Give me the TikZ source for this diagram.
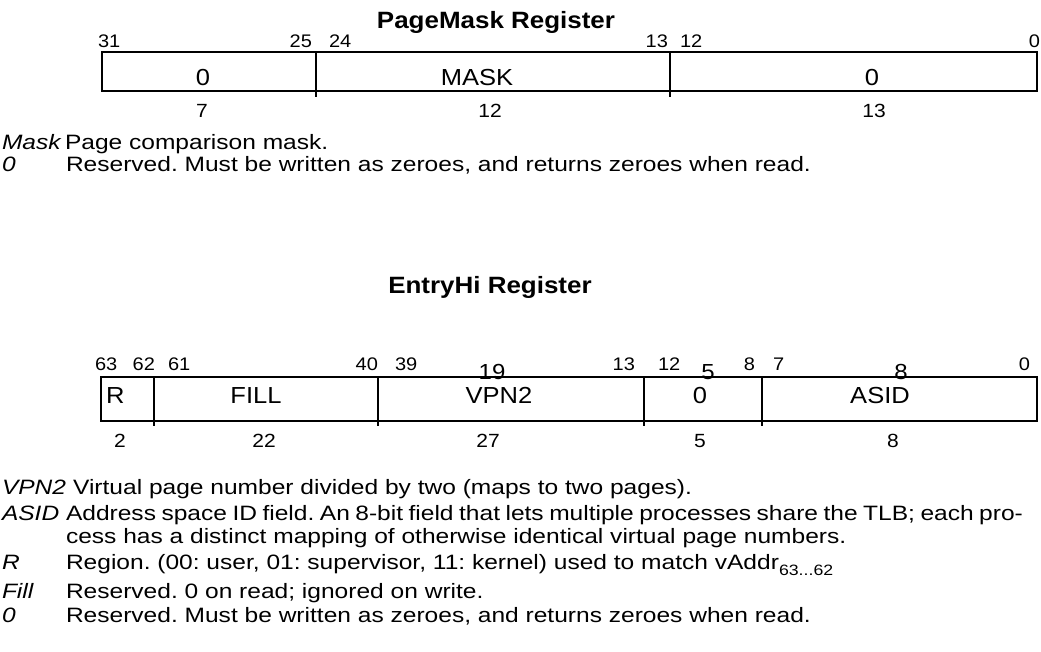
\documentclass[tikz,border=0pt]{standalone}
\usepackage{fontspec}
% the register drawings use a slightly extended sans face
\setmainfont[FakeStretch=1.1]{Liberation Sans}
\newfontfamily\descfont[FakeStretch=1.18]{Liberation Sans}
\frenchspacing
\begin{document}
\begin{tikzpicture}[x=1pt,y=-1pt,
  every node/.style={inner sep=0pt, outer sep=0pt},
  title/.style={anchor=base, font=\fontsize{23.6}{23.6}\selectfont\bfseries},
  bitno/.style={anchor=base, font=\fontsize{18.2}{18.2}\selectfont},
  bitL/.style={bitno, anchor=base west},
  bitR/.style={bitno, anchor=base east},
  bigno/.style={anchor=base, font=\fontsize{21.8}{21.8}\selectfont},
  field/.style={anchor=base, font=\fontsize{23.2}{23.2}\selectfont},
  fieldL/.style={field, anchor=base west},
  widthno/.style={anchor=base, font=\fontsize{19.1}{19.1}\selectfont},
  term/.style={anchor=base west, font=\descfont\fontsize{20.8}{20.8}\selectfont\itshape},
  desc/.style={anchor=base west, font=\descfont\fontsize{20.8}{20.8}\selectfont},
  reg/.style={line width=2pt},
  tick/.style={line width=2pt}]
\useasboundingbox (0,0) rectangle (1041,651);

% ---------------- PageMask register ----------------
\node[title] (pmTitle) at (496,28) {PageMask Register};

\node[bitL] (pmB31) at (98,47)  {31};
\node[bitR] (pmB25) at (312,47) {25};
\node[bitL] (pmB24) at (329,47) {24};
\node[bitR] (pmB13) at (668,47) {13};
\node[bitL] (pmB12) at (680,47) {12};
\node[bitR] (pmB0)  at (1040,47) {0};

\coordinate (pmNW) at (102,52);
\coordinate (pmSE) at (1037,91);
\draw[reg] (pmNW) rectangle (pmSE);
\draw[tick] (316,52) -- (316,97);
\draw[tick] (670,52) -- (670,97);

\node[field] (pmZeroHi) at (203,85) {0};
\node[field] (pmMask)   at (477,85) {MASK};
\node[field] (pmZeroLo) at (872,85) {0};

\node[widthno] (pmW7)  at (202,117) {7};
\node[widthno] (pmW12) at (490,117) {12};
\node[widthno] (pmW13) at (874,117) {13};

\node[term] (pmTMask) at (2,149) {Mask};
\node[desc] (pmDMask) at (65,149) {Page comparison mask.};
\node[term] (pmTZero) at (2,171) {0};
\node[desc] (pmDZero) at (66,171) {Reserved. Must be written as zeroes, and returns zeroes when read.};

% ---------------- EntryHi register ----------------
\node[title] (ehTitle) at (490,293) {EntryHi Register};

\node[bitL] (ehB63) at (95,370)  {63};
\node[bitR] (ehB62) at (155,370) {62};
\node[bitL] (ehB61) at (168,370) {61};
\node[bitR] (ehB40) at (378,370) {40};
\node[bitL] (ehB39) at (395,370) {39};
\node[bitR] (ehB13) at (635,370) {13};
\node[bitL] (ehB12) at (658,370) {12};
\node[bitR] (ehB8)  at (755,370) {8};
\node[bitL] (ehB7)  at (773,370) {7};
\node[bitR] (ehB0)  at (1030,370) {0};

\node[bigno] (ehN19) at (492,379) {19};
\node[bigno] (ehN5)  at (708,379) {5};
\node[bigno] (ehN8)  at (901,379) {8};

\coordinate (ehNW) at (101,377);
\coordinate (ehSE) at (1037,421);
\draw[reg] (ehNW) rectangle (ehSE);
\foreach \xd in {154,378,644,762}
  \draw[tick] (\xd,377) -- (\xd,426);

\node[fieldL] (ehR)    at (106,403) {R};
\node[field]  (ehFill) at (256,403) {FILL};
\node[field]  (ehVpn)  at (499,403) {VPN2};
\node[field]  (ehZero) at (700,403) {0};
\node[field]  (ehAsid) at (880,403) {ASID};

\node[widthno] (ehW2)  at (120,447) {2};
\node[widthno] (ehW22) at (264,447) {22};
\node[widthno] (ehW27) at (488,447) {27};
\node[widthno] (ehW5)  at (700,447) {5};
\node[widthno] (ehW8)  at (893,447) {8};

\node[term] (ehTVpn)  at (2,494) {VPN2};
\node[desc] (ehDVpn)  at ([xshift=7pt]ehTVpn.base east) {Virtual page number divided by two (maps to two pages).};
\node[term] (ehTAsid) at (2,520) {ASID};
% first line of a justified paragraph: spaces shrink to fill the measure
\node[desc] (ehDAsid) at (66,520) {\hbox to 957pt{\spaceskip=0.22em plus 1em\relax Address space ID field. An 8-bit field that lets multiple processes share the TLB; each pro-}};
\node[desc] (ehDAsid2) at (66,543) {cess has a distinct mapping of otherwise identical virtual page numbers.};
\node[term] (ehTR)    at (2,569) {R};
\node[desc] (ehDR)    at (66,569) {Region. (00: user, 01: supervisor, 11: kernel) used to match vAddr\raisebox{-0.32em}{\fontsize{15}{15}\selectfont 63...62}};
\node[term] (ehTFill) at (2,598) {Fill};
\node[desc] (ehDFill) at (66,598) {Reserved. 0 on read; ignored on write.};
\node[term] (ehTZero) at (2,622) {0};
\node[desc] (ehDZero) at (66,622) {Reserved. Must be written as zeroes, and returns zeroes when read.};
\end{tikzpicture}
\end{document}
